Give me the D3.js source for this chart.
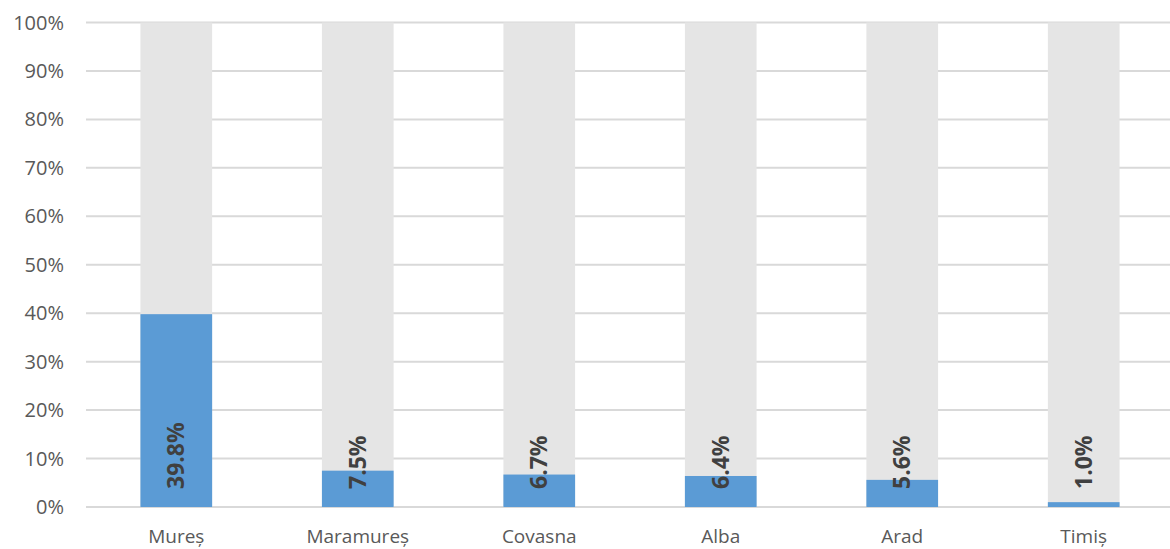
<!DOCTYPE html>
<meta charset="utf-8">
<style>
body { margin: 0; background: #fff; }
text { font-family: "Open Sans", "Noto Sans", sans-serif; }
</style>
<svg width="1170" height="549"></svg>
<script src="https://d3js.org/d3.v7.min.js"></script>
<script>
var counties = ["Mureș", "Maramureș", "Covasna", "Alba", "Arad", "Timiș"];
var shares = [39.8, 7.5, 6.7, 6.4, 5.6, 1.0];
var yTicks = [0, 10, 20, 30, 40, 50, 60, 70, 80, 90, 100];

var svg = d3.select("svg");

var x = d3.scaleBand()
    .domain(counties)
    .range([86, 1174])
    .paddingInner(0.605)
    .paddingOuter(0.3);

var y = d3.scaleLinear()
    .domain([0, 100])
    .range([507, 22.5]);

// gridlines
svg.append("g")
   .selectAll("line")
   .data(yTicks)
   .enter().append("line")
   .attr("x1", 86)
   .attr("x2", 1170)
   .attr("y1", function(d) { return y(d); })
   .attr("y2", function(d) { return y(d); })
   .attr("stroke", "#d9d9d9")
   .attr("stroke-width", 2);

// y tick labels
svg.append("g")
   .selectAll("text")
   .data(yTicks)
   .enter().append("text")
   .attr("x", 64)
   .attr("y", function(d) { return y(d); })
   .attr("dy", "0.35em")
   .attr("text-anchor", "end")
   .attr("font-size", "20px")
   .attr("fill", "#595959")
   .text(function(d) { return d + "%"; });

// background 100% bars
svg.append("g")
   .selectAll("rect")
   .data(counties)
   .enter().append("rect")
   .attr("x", function(d) { return x(d); })
   .attr("width", x.bandwidth())
   .attr("y", y(100))
   .attr("height", y(0) - y(100))
   .attr("fill", "#e5e5e5");

// value bars
svg.append("g")
   .selectAll("rect")
   .data(shares)
   .enter().append("rect")
   .attr("x", function(d, i) { return x(counties[i]); })
   .attr("width", x.bandwidth())
   .attr("y", function(d) { return y(d); })
   .attr("height", function(d) { return y(0) - y(d); })
   .attr("fill", "#5b9bd5");

// value labels
svg.append("g")
   .selectAll("text")
   .data(shares)
   .enter().append("text")
   .attr("transform", function(d, i) {
     return "translate(" + (x(counties[i]) + x.bandwidth() / 2) + "," + (y(0) - 18) + ") rotate(-90)";
   })
   .attr("dy", "0.35em")
   .attr("text-anchor", "start")
   .attr("font-size", "23px")
   .attr("font-weight", "bold")
   .attr("fill", "#404040")
   .text(function(d) { return d.toFixed(1) + "%"; });

// category labels
svg.append("g")
   .selectAll("text")
   .data(counties)
   .enter().append("text")
   .attr("x", function(d) { return x(d) + x.bandwidth() / 2; })
   .attr("y", 536)
   .attr("dy", "0.35em")
   .attr("text-anchor", "middle")
   .attr("font-size", "19px")
   .attr("fill", "#595959")
   .text(function(d) { return d; });
</script>
